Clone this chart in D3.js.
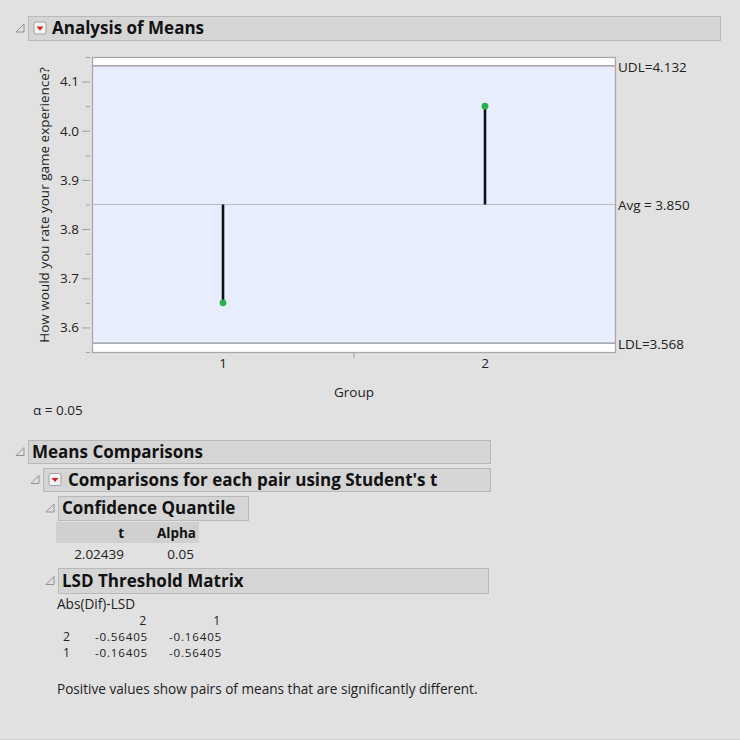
<!DOCTYPE html>
<html><head><meta charset="utf-8">
<script src="https://cdn.jsdelivr.net/npm/d3@7"></script>
<style>
html,body{margin:0;padding:0;background:#e1e1e1;}
svg{display:block;font-family:"Open Sans","Noto Sans",sans-serif;}
</style></head>
<body>
<svg id="c" width="740" height="740"></svg>
<script>
// ---- data ----
const groups = ["1", "2"];
const groupMeans = [3.65, 4.05];
const overallAvg = 3.85;
const udl = 4.132;
const ldl = 3.568;
const yTicks = [3.6, 3.7, 3.8, 3.9, 4.0, 4.1];
const yMinorTicks = [3.55, 3.65, 3.75, 3.85, 3.95, 4.05, 4.15];
const alphaLevel = 0.05;
const quantileHeaders = ["t", "Alpha"];
const quantileValues = ["2.02439", "0.05"];
const lsdCols = ["2", "1"];
const lsdRows = ["2", "1"];
const lsdValues = [["-0.56405", "-0.16405"], ["-0.16405", "-0.56405"]];

const svg = d3.select("#c");
const font = '"Open Sans","Noto Sans",sans-serif';
const txt = "#222";
const fsAxis = 13.5, fsHead = 17, fsBody = 13.6, fsMatrix = 11.6;

// ---- helpers ----
function disclosure(x, y) {
  svg.append("path")
    .attr("d", `M${x},${y+9} L${x+8},${y+9} L${x+8},${y+1} Z`)
    .attr("fill", "none").attr("stroke", "#8a8a8a").attr("stroke-width", 0.9);
}
function redMenu(x, y) {
  svg.append("rect").attr("x", x).attr("y", y).attr("width", 12).attr("height", 12).attr("rx", 2)
    .attr("fill", "#f4f4f4").attr("stroke", "#a0a0a0");
  svg.append("path").attr("d", `M${x+2.5},${y+4.5} L${x+9.5},${y+4.5} L${x+6},${y+8.5} Z`).attr("fill", "#d81e1e");
}
function header(x0, x1, y0, y1, label, tx, fs, opts = {}) {
  svg.append("rect").attr("x", x0 + 0.5).attr("y", y0 + 0.5).attr("width", x1 - x0).attr("height", y1 - y0)
    .attr("fill", "#d5d5d5").attr("stroke", "#b9b9b9");
  disclosure(x0 - 12, (y0 + y1) / 2 - 5);
  if (opts.menu) redMenu(x0 + 6, (y0 + y1) / 2 - 6);
  svg.append("text").attr("x", tx).attr("y", (y0 + y1) / 2).attr("dy", "0.36em")
    .attr("font-size", fs).attr("font-weight", "bold").attr("fill", "#111").text(label);
}

// ---- Analysis of Means header ----
header(28, 720, 16, 40, "Analysis of Means", 52, fsHead, {menu: true});

// ---- chart ----
const frame = {l: 92, r: 616, t: 57, b: 353};
const y = d3.scaleLinear().domain([3.55, 4.15]).range([frame.b - 1, frame.t]);
const x = d3.scaleBand().domain(groups).range([frame.l, frame.r]);

svg.append("rect").attr("x", frame.l).attr("y", frame.t).attr("width", frame.r - frame.l).attr("height", frame.b - frame.t)
  .attr("fill", "#ffffff");
svg.append("rect").attr("x", frame.l).attr("y", y(udl)).attr("width", frame.r - frame.l).attr("height", y(ldl) - y(udl))
  .attr("fill", "#e8eefd");
[udl, ldl].forEach(v => {
  svg.append("line").attr("x1", frame.l).attr("x2", frame.r).attr("y1", y(v)).attr("y2", y(v))
    .attr("stroke", "#8f8f96").attr("stroke-width", 1.2);
});
svg.append("line").attr("x1", frame.l).attr("x2", frame.r).attr("y1", y(overallAvg)).attr("y2", y(overallAvg))
  .attr("stroke", "#b8bccb").attr("stroke-width", 1.2);
svg.append("rect").attr("x", frame.l + 0.5).attr("y", frame.t + 0.5).attr("width", frame.r - frame.l - 1).attr("height", frame.b - frame.t - 1)
  .attr("fill", "none").attr("stroke", "#a8a8a8").attr("stroke-width", 1.3);

// y axis
const yAxisG = svg.append("g").attr("transform", `translate(${frame.l - 2},0)`)
  .call(d3.axisLeft(y).tickValues(yTicks).tickFormat(d3.format(".1f")).tickSize(8).tickPadding(3));
yAxisG.select(".domain").remove();
yAxisG.selectAll(".tick line").attr("stroke", "#a0a0a0");
yAxisG.selectAll("text").attr("font-family", font).attr("font-size", fsAxis).attr("fill", txt);
const yMinorG = svg.append("g").attr("transform", `translate(${frame.l - 2},0)`)
  .call(d3.axisLeft(y).tickValues(yMinorTicks).tickFormat("").tickSize(4));
yMinorG.select(".domain").remove();
yMinorG.selectAll(".tick line").attr("stroke", "#a0a0a0");

// x axis
const xAxisG = svg.append("g").attr("transform", `translate(0,${frame.b})`)
  .call(d3.axisBottom(x).tickSize(0).tickPadding(5));
xAxisG.select(".domain").remove();
xAxisG.selectAll("text").attr("font-family", font).attr("font-size", fsAxis).attr("fill", txt);
svg.append("line").attr("x1", x(groups[1])).attr("x2", x(groups[1])).attr("y1", frame.b).attr("y2", frame.b + 5)
  .attr("stroke", "#a0a0a0");

// axis titles
svg.append("text").attr("x", (frame.l + frame.r) / 2).attr("y", 392).attr("dy", "0.36em")
  .attr("text-anchor", "middle").attr("font-size", fsAxis).attr("fill", txt).text("Group");
svg.append("text").attr("transform", `translate(44,${(frame.t + frame.b) / 2}) rotate(-90)`).attr("dy", "0.36em")
  .attr("text-anchor", "middle").attr("font-size", fsAxis).attr("fill", txt).text("How would you rate your game experience?");

// right labels
const rightLabels = [[udl, "UDL=" + d3.format(".3f")(udl)], [overallAvg, "Avg = " + d3.format(".3f")(overallAvg)], [ldl, "LDL=" + d3.format(".3f")(ldl)]];
rightLabels.forEach(([v, s]) => {
  svg.append("text").attr("x", frame.r + 2).attr("y", y(v) + 1).attr("dy", "0.36em")
    .attr("font-size", fsAxis).attr("fill", txt).text(s);
});

// stems and points
const pts = groups.map((g, i) => ({g, m: groupMeans[i]}));
svg.selectAll(".stem").data(pts).enter().append("line")
  .attr("x1", d => x(d.g) + x.bandwidth() / 2).attr("x2", d => x(d.g) + x.bandwidth() / 2)
  .attr("y1", y(overallAvg)).attr("y2", d => y(d.m))
  .attr("stroke", "#111").attr("stroke-width", 2.6);
svg.selectAll(".pt").data(pts).enter().append("circle")
  .attr("cx", d => x(d.g) + x.bandwidth() / 2).attr("cy", d => y(d.m)).attr("r", 3.4)
  .attr("fill", "#27b24a");

// alpha
svg.append("text").attr("x", 33).attr("y", 410).attr("dy", "0.36em").attr("font-size", fsAxis).attr("fill", txt)
  .text("α = " + alphaLevel);

// ---- Means Comparisons ----
header(28, 490, 440, 463, "Means Comparisons", 32, fsHead);
header(43, 490, 468, 491, "Comparisons for each pair using Student's t", 68, fsHead, {menu: true});
header(58, 248, 496, 520, "Confidence Quantile", 62, fsHead);

// quantile table
svg.append("rect").attr("x", 56).attr("y", 522).attr("width", 143).attr("height", 21).attr("fill", "#d0d0d0");
const qRight = [124, 196];
quantileHeaders.forEach((h, i) => {
  svg.append("text").attr("x", qRight[i]).attr("y", 533).attr("dy", "0.36em").attr("text-anchor", "end")
    .attr("font-size", fsAxis).attr("font-weight", "bold").attr("fill", "#111").text(h);
});
quantileValues.forEach((v, i) => {
  svg.append("text").attr("x", qRight[i] - (i ? 2 : 0)).attr("y", 554).attr("dy", "0.36em").attr("text-anchor", "end")
    .attr("font-size", fsAxis).attr("fill", txt).text(v);
});

header(58, 488, 568, 593, "LSD Threshold Matrix", 62, fsHead);
svg.append("text").attr("x", 57).attr("y", 604).attr("dy", "0.36em").attr("font-size", fsBody).attr("fill", txt).text("Abs(Dif)-LSD");
const colRight = [147, 221];
const mx = sel => sel.attr("font-size", fsMatrix).attr("letter-spacing", "0.8px").attr("fill", txt);
lsdCols.forEach((c, i) => {
  svg.append("text").attr("x", colRight[i]).attr("y", 621).attr("dy", "0.36em").attr("text-anchor", "end")
    .call(mx).attr("font-size", fsMatrix + 0.6).text(c);
});
lsdRows.forEach((r, j) => {
  const yy = 637 + j * 16;
  svg.append("text").attr("x", 67).attr("y", yy).attr("dy", "0.36em").attr("text-anchor", "middle")
    .call(mx).attr("font-size", fsMatrix + 0.6).text(r);
  lsdValues[j].forEach((v, i) => {
    svg.append("text").attr("x", colRight[i] + 1).attr("y", yy).attr("dy", "0.36em").attr("text-anchor", "end")
      .call(mx).text(v);
  });
});
svg.append("text").attr("x", 57).attr("y", 689).attr("dy", "0.36em").attr("font-size", fsBody).attr("fill", txt)
  .text("Positive values show pairs of means that are significantly different.");

svg.append("line").attr("x1", 0).attr("x2", 740).attr("y1", 739.5).attr("y2", 739.5).attr("stroke", "#d0d0d0");
</script>
</body></html>
